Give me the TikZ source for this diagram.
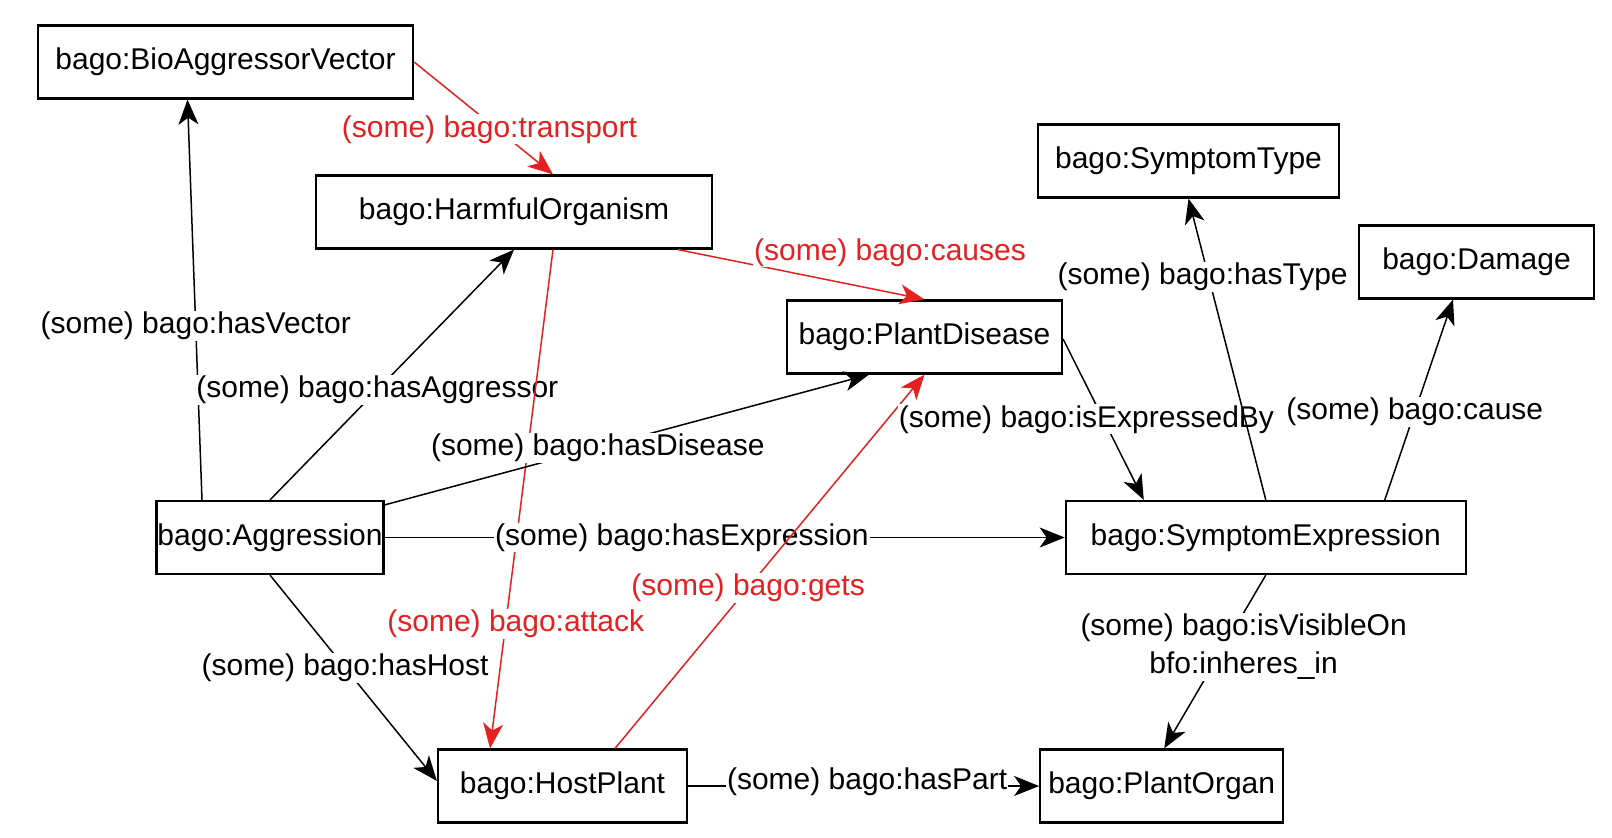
\documentclass[tikz,border=0pt]{standalone}
\usepackage{fontspec}
\setmainfont{Liberation Sans}
\usetikzlibrary{arrows.meta, positioning}
\definecolor{relred}{RGB}{228,32,32}

\begin{document}
\begin{tikzpicture}[
        x=1pt, y=-1pt,
        font=\fontsize{30}{38}\selectfont,
        concept/.style={rectangle, draw, line width=2.2pt, minimum height=73pt, inner sep=1pt, align=center},
        arrow/.style={-{Stealth[length=25pt, width=20pt, inset=7pt]}, line width=1.5pt},
        redarrow/.style={arrow, relred},
        prop/.style={fill=white, inner sep=1pt, align=center},
        redprop/.style={prop, text=relred}
    ]
        \useasboundingbox (0,0) rectangle (1612,838);

        % Nodes
        \node[concept, minimum width=375pt] (vector) at (225.5,62) {bago:BioAggressorVector};
        \node[concept, minimum width=396pt] (harmful) at (514,212) {bago:HarmfulOrganism};
        \node[concept, minimum width=301pt] (symtype) at (1188.5,161) {bago:SymptomType};
        \node[concept, minimum width=235pt] (damage) at (1476.5,262) {bago:Damage};
        \node[concept, minimum width=275pt] (disease) at (924.5,337) {bago:PlantDisease};
        \node[concept, minimum width=226pt] (aggression) at (270,537.5) {bago:Aggression};
        \node[concept, minimum width=400pt, right=680pt of aggression] (expression) {bago:SymptomExpression};
        \node[concept, minimum width=249pt] (host) at (562.5,786) {bago:HostPlant};
        \node[concept, minimum width=243pt, right=351pt of host] (organ) {bago:PlantOrgan};

        % Paths
        \draw[arrow] ([xshift=-68pt]aggression.north) -- ([xshift=-38pt]vector.south) node[prop, pos=0.435] {(some) bago:hasVector};
        \draw[arrow] (aggression.north) -- (harmful.south) node[prop, pos=0.44] {(some) bago:hasAggressor};
        \draw[redarrow] ([xshift=39pt]harmful.south) -- ([xshift=-72.5pt]host.north) node[redprop, pos=0.75, xshift=10pt] {(some) bago:attack};
        \draw[arrow] ([yshift=-5pt]aggression.north east) -- ([xshift=-55.5pt]disease.south) node[prop, pos=0.44] {(some) bago:hasDisease};
        \draw[arrow] (aggression.east) -- (expression.west) node[prop, pos=0.437] {(some) bago:hasExpression};
        \draw[redarrow] ([xshift=52.5pt]host.north) -- (disease.south) node[redprop, pos=0.43] {(some) bago:gets};
        \draw[arrow] (aggression.south) -- ([yshift=5pt]host.west) node[prop, pos=0.45] {(some) bago:hasHost};
        \draw[redarrow] (vector.east) -- ([xshift=39pt]harmful.north) node[redprop, pos=0.6, xshift=-8pt] {(some) bago:transport};
        \draw[redarrow] ([xshift=164pt]harmful.south) -- (disease.north) node[redprop, pos=0.86, yshift=40pt] {(some) bago:causes};
        \draw[arrow] ([yshift=-2pt]disease.east) -- ([xshift=-122pt]expression.north) node[prop, pos=0.5, xshift=-17pt] {(some) bago:isExpressedBy};
        \draw[arrow] (expression.north) -- (symtype.south) node[prop, pos=0.74, xshift=-6pt] {(some) bago:hasType};
        \draw[arrow] ([xshift=119pt]expression.north) -- ([xshift=-23.5pt]damage.south) node[prop, pos=0.44] {(some) bago:cause};
        \draw[arrow] (expression.south) -- ([xshift=2.5pt]organ.north) node[prop, pos=0.415, xshift=20pt] {(some) bago:isVisibleOn\\bfo:inheres\_in};
        \draw[arrow] (host.east) -- (organ.west) node[prop, pos=0.51, yshift=4pt] {(some) bago:hasPart};

    \end{tikzpicture}
\end{document}
